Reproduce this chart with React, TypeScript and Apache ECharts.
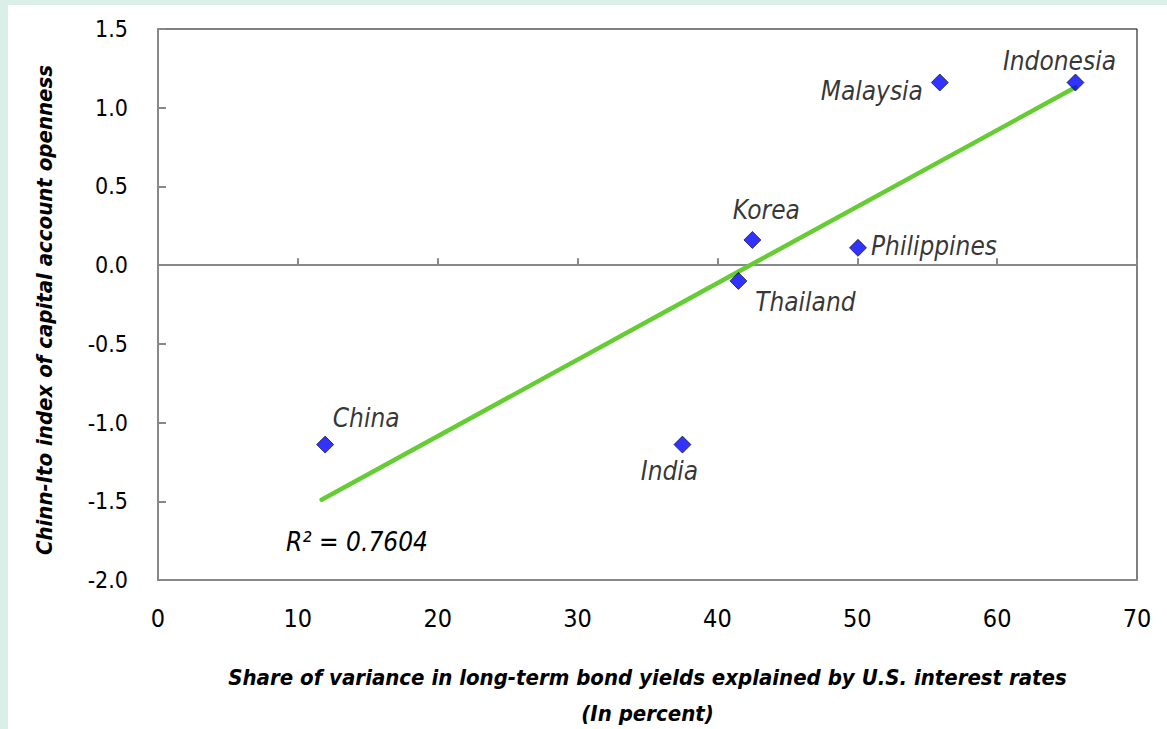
import React, { useEffect, useRef } from "react";
import * as echarts from "echarts";

const countries = ["China", "India", "Thailand", "Korea", "Philippines", "Malaysia", "Indonesia"];
const shareOfVariance = [11.95, 37.5, 41.5, 42.5, 50.05, 55.9, 65.6];
const chinnItoIndex = [-1.14, -1.14, -0.1, 0.16, 0.11, 1.16, 1.16];
const trendX = [11.7, 65.6];
const trendY = [-1.49, 1.13];
const rSquaredText = "R² = 0.7604";
const xTitle = "Share of variance in long-term bond yields explained by U.S. interest rates";
const xSubtitle = "(In percent)";
const yTitle = "Chinn-Ito index of capital account openness";

// label placement (styling, not data)
const labelOffsets: Record<string, [number, number]> = {
  China: [41, -27],
  India: [-13, 26],
  Thailand: [67, 21],
  Korea: [14, -30],
  Philippines: [76, -2],
  Malaysia: [-68, 8],
  Indonesia: [-16, -22],
};

const FONT = "'Liberation Sans Narrow', 'DejaVu Sans Condensed', 'Roboto Condensed', 'Arial Narrow', sans-serif";

export default function App() {
  const ref = useRef<HTMLDivElement>(null);
  useEffect(() => {
    if (!ref.current) return;
    const chart = echarts.init(ref.current, null, { renderer: "svg" });
    const gray = "#888888";
    chart.setOption({
      animation: false,
      backgroundColor: "#ffffff",
      textStyle: { fontFamily: FONT },
      grid: {
        left: 150,
        right: 30,
        top: 24,
        bottom: 149,
        outerBoundsMode: "none",
        containLabel: false,
        show: true,
        borderColor: "#000000",
        borderWidth: 1,
        backgroundColor: "transparent",
      },
      xAxis: [
        {
          type: "value",
          min: 0,
          max: 70,
          interval: 10,
          position: "bottom",
          axisLine: { show: true, onZero: false, lineStyle: { color: gray, width: 2 } },
          axisTick: { show: false },
          splitLine: { show: false },
          axisLabel: { fontSize: 25, color: "#000", margin: 26, fontFamily: FONT },
          name: xTitle + "\n" + xSubtitle,
          nameLocation: "middle",
          nameGap: 79,
          nameTextStyle: {
            fontSize: 22,
            fontWeight: "bold",
            fontStyle: "italic",
            color: "#000",
            lineHeight: 36,
            fontFamily: FONT,
          },
        },
        {
          type: "value",
          min: 0,
          max: 70,
          interval: 10,
          position: "bottom",
          axisLine: { show: true, onZero: true, onZeroAxisIndex: 0, lineStyle: { color: gray, width: 2 } },
          axisTick: { show: true, inside: true, length: 7, lineStyle: { color: gray, width: 2 } },
          axisLabel: { show: false },
          splitLine: { show: false },
        },
      ],
      yAxis: {
        type: "value",
        min: -2,
        max: 1.5,
        interval: 0.5,
        axisLine: { show: true, lineStyle: { color: gray, width: 2 } },
        axisTick: { show: true, inside: true, length: 8, lineStyle: { color: gray, width: 2 } },
        splitLine: { show: false },
        axisLabel: {
          fontSize: 23,
          color: "#000",
          margin: 30,
          fontFamily: FONT,
          formatter: (v: number) => v.toFixed(1),
        },
        name: yTitle,
        nameLocation: "middle",
        nameGap: 103,
        nameRotate: 90,
        nameTextStyle: {
          fontSize: 22,
          fontWeight: "bold",
          fontStyle: "italic",
          color: "#000",
          fontFamily: FONT,
          padding: [0, 11, 0, 0],
        },
      },
      series: [
        {
          type: "line",
          data: trendX.map((x, i) => [x, trendY[i]]),
          showSymbol: false,
          symbol: "none",
          lineStyle: { color: "#66cc33", width: 4.5, cap: "round" },
          z: 2,
          silent: true,
        },
        {
          type: "scatter",
          symbol: "diamond",
          symbolSize: 17,
          z: 3,
          itemStyle: { color: "#0000ff", borderColor: "#000000", borderWidth: 0.8 },
          label: {
            show: true,
            position: "inside",
            formatter: "{b}",
            fontSize: 26,
            fontStyle: "italic",
            color: "#000",
            textBorderWidth: 0,
            fontFamily: FONT,
          },
          data: countries.map((c, i) => ({
            name: c,
            value: [shareOfVariance[i], chinnItoIndex[i]],
            label: { offset: labelOffsets[c] },
          })),
        },
      ],
      graphic: [
        {
          type: "text",
          x: 278,
          y: 537,
          style: {
            text: rSquaredText,
            fontSize: 26,
            fontStyle: "italic",
            fill: "#000",
            fontFamily: FONT,
            textVerticalAlign: "middle",
          },
        },
      ],
    });
    return () => chart.dispose();
  }, []);
  return (
    <div
      style={{
        position: "fixed",
        left: 0,
        top: 0,
        width: 1167,
        height: 729,
        background: "#d9efe8",
      }}
    >
      <div
        ref={ref}
        style={{ position: "absolute", left: 8, top: 5, width: 1159, height: 724, background: "#fff" }}
      />
    </div>
  );
}
